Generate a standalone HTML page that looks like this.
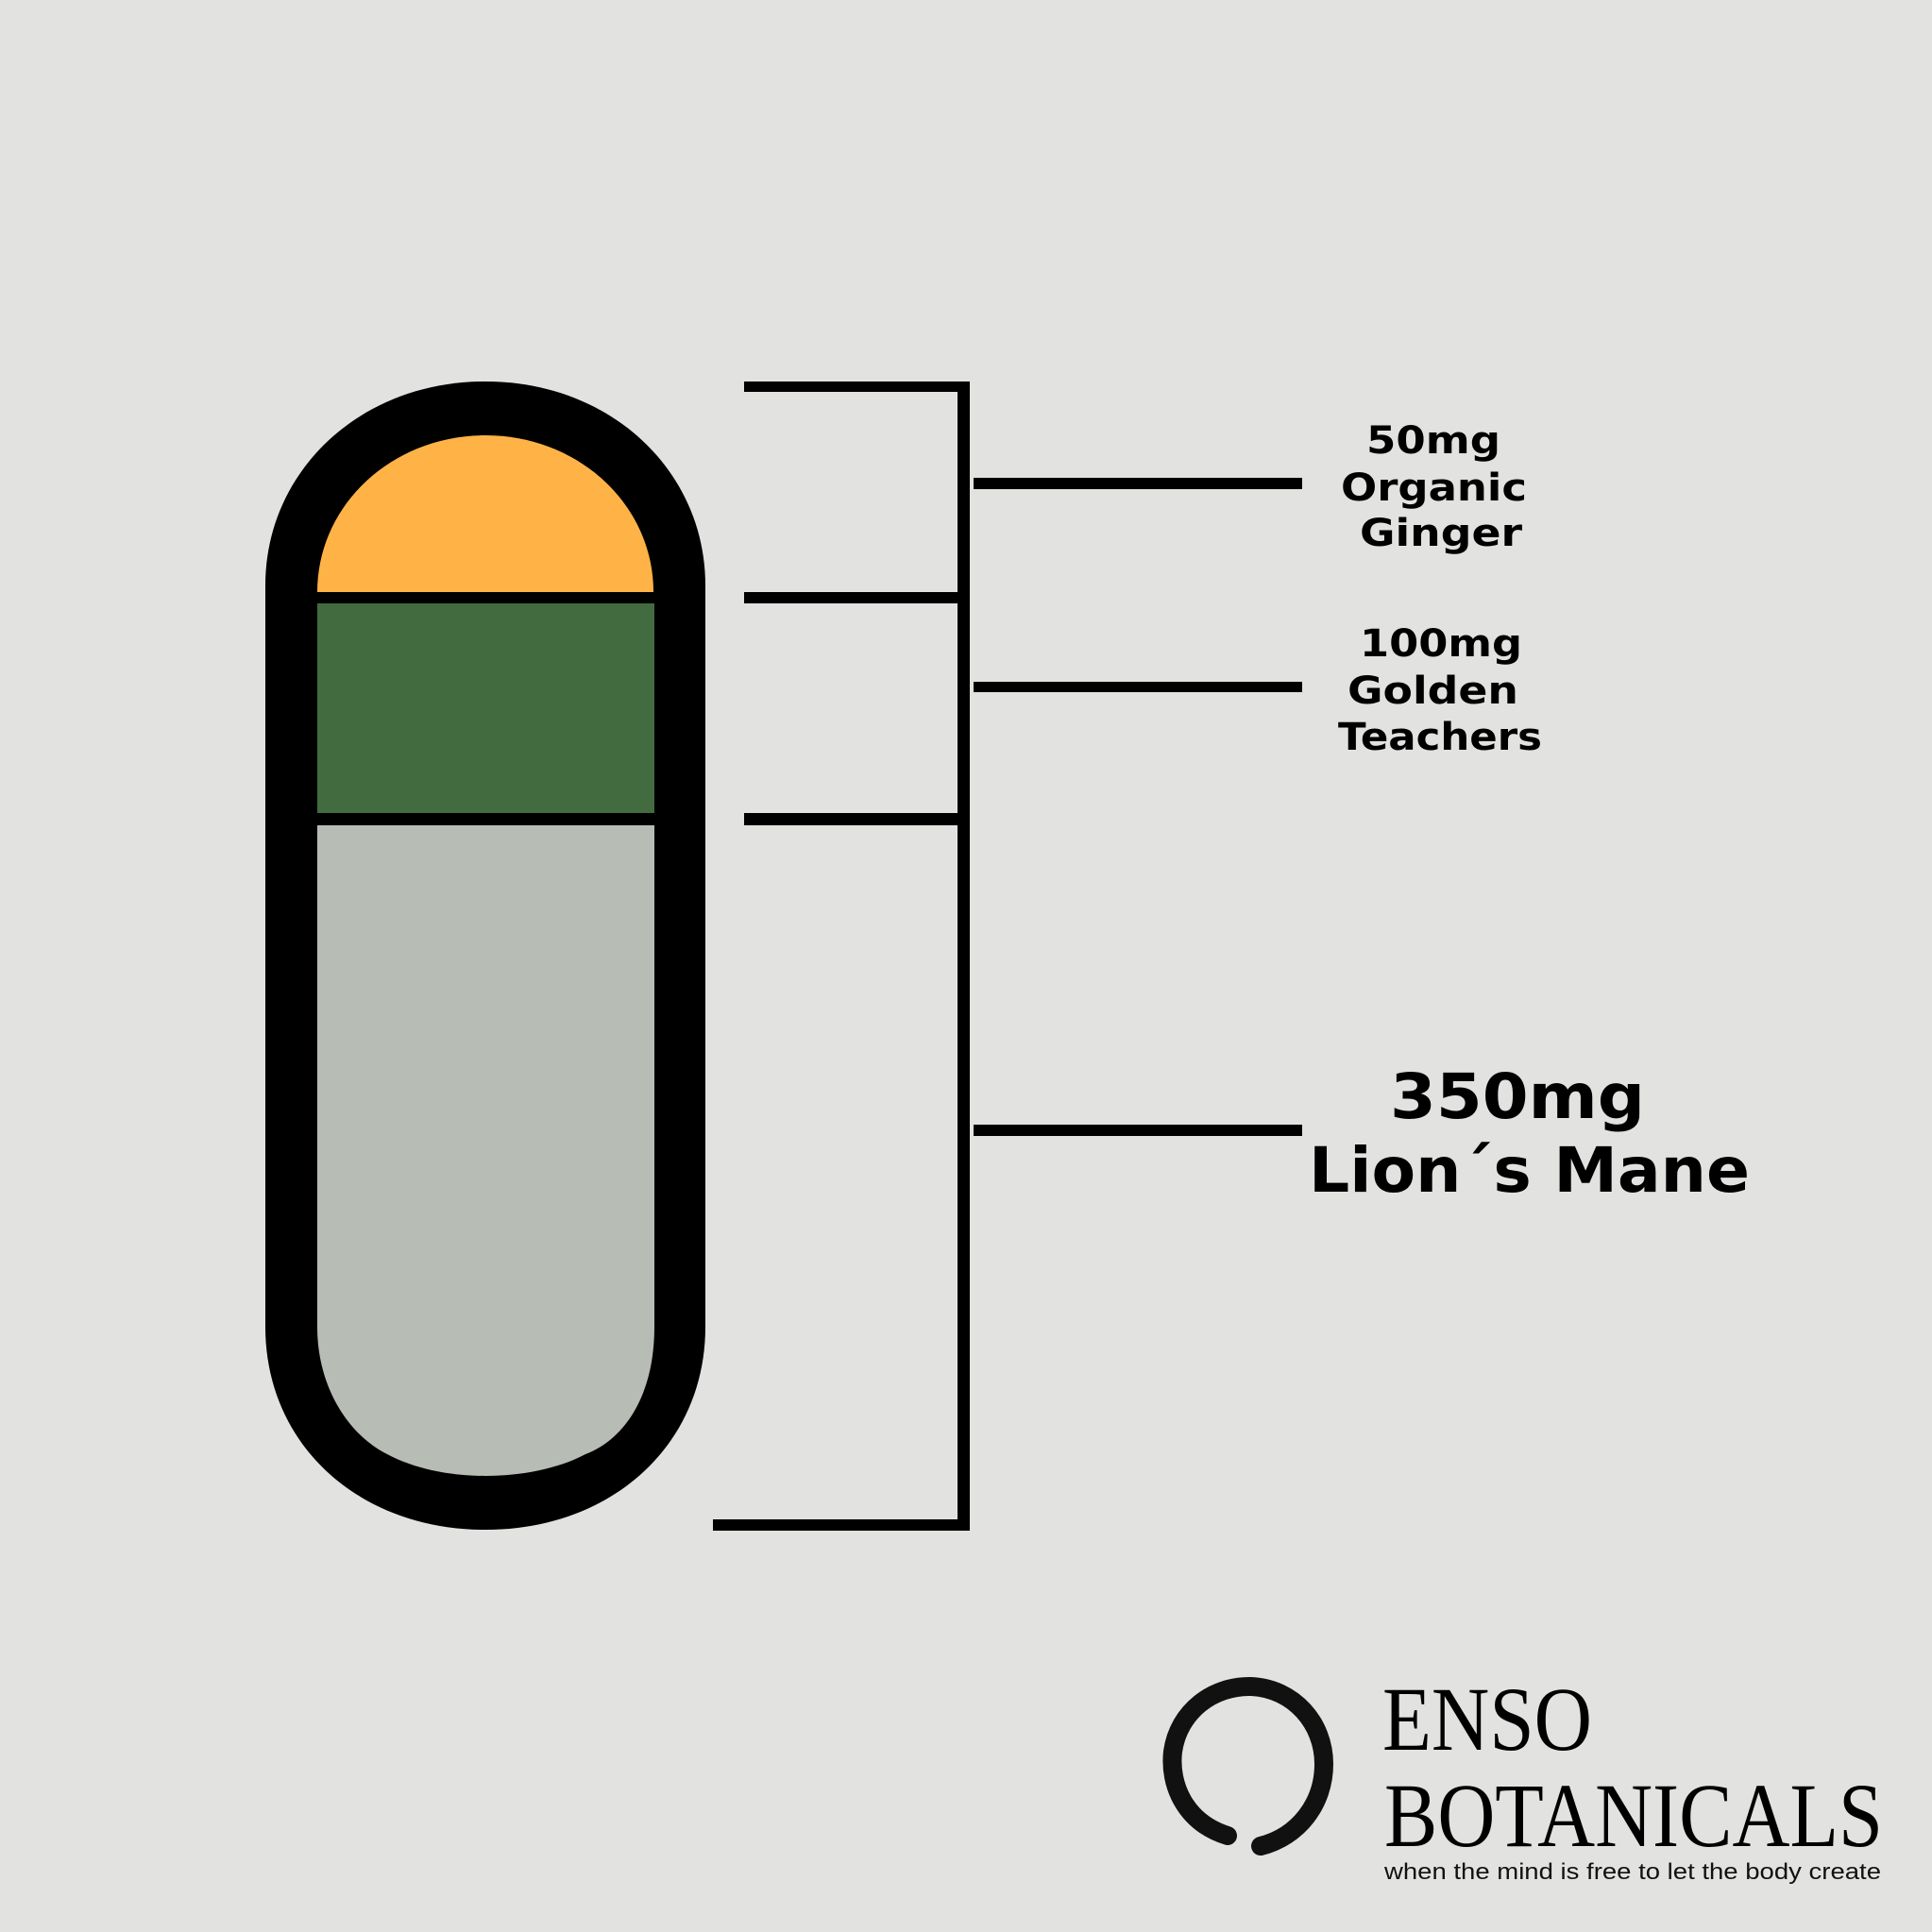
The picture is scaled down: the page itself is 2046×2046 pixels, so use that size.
<!DOCTYPE html>
<html><head><meta charset="utf-8"><style>html,body{margin:0;padding:0;background:#e2e2e0}svg{display:block}</style></head>
<body>
<svg width="2046" height="2046" viewBox="0 0 2046 2046" xmlns="http://www.w3.org/2000/svg">
<rect width="2046" height="2046" fill="#e2e2e0"/>
<path d="M281 620 C281 500 380 404 514 404 C648 404 747 500 747 620 L747 1405 C747 1530 648 1620 514 1620 C380 1620 281 1530 281 1405 Z" fill="#000"/>
<path d="M336 627 C336 535 415 461 514 461 C613 461 692 535 692 627 Z" fill="#ffb347"/>
<rect x="336" y="639" width="357" height="222" fill="#426b3f"/>
<path d="M336 874 L693 874 L693 1405 C693 1480 660 1525 620 1540 C590 1556 550 1563 514 1563 C478 1563 440 1556 410 1540 C370 1520 336 1470 336 1405 Z" fill="#b7bcb5"/>
<g fill="#000">
<rect x="1014" y="404" width="13" height="1217"/>
<rect x="788" y="404" width="239" height="11"/>
<rect x="788" y="627" width="239" height="12"/>
<rect x="788" y="861" width="239" height="13"/>
<rect x="755" y="1609" width="272" height="12"/>
<rect x="1031" y="506" width="348" height="12"/>
<rect x="1031" y="722" width="348" height="11"/>
<rect x="1031" y="1191" width="348" height="12"/>
</g>
<g font-family="'DejaVu Sans','Liberation Sans',sans-serif" font-weight="bold" fill="#000" font-size="40">
<text x="1447" y="480" textLength="142" lengthAdjust="spacingAndGlyphs">50mg</text>
<text x="1420" y="530" textLength="197" lengthAdjust="spacingAndGlyphs">Organic</text>
<text x="1440" y="578" textLength="172" lengthAdjust="spacingAndGlyphs">Ginger</text>
<text x="1440" y="695" textLength="172" lengthAdjust="spacingAndGlyphs">100mg</text>
<text x="1427" y="745" textLength="181" lengthAdjust="spacingAndGlyphs">Golden</text>
<text x="1417" y="794" textLength="216" lengthAdjust="spacingAndGlyphs">Teachers</text>
<text x="1472" y="1184" font-size="66" textLength="270" lengthAdjust="spacingAndGlyphs">350mg</text>
<text x="1386" y="1262" font-size="66" textLength="467" lengthAdjust="spacingAndGlyphs">Lion´s Mane</text>
</g>
<path d="M1300 1944 C1255 1930 1238 1890 1242 1855 C1248 1812 1285 1785 1325 1786 C1370 1788 1402 1825 1402 1868 C1402 1910 1375 1945 1335 1955" fill="none" stroke="#111" stroke-width="20" stroke-linecap="round"/>
<g font-family="'Liberation Serif',serif" fill="#000">
<text x="1464" y="1853" font-size="96" textLength="222" lengthAdjust="spacingAndGlyphs">ENSO</text>
<text x="1466" y="1955" font-size="96" textLength="528" lengthAdjust="spacingAndGlyphs">BOTANICALS</text>
</g>
<text x="1466" y="1990" font-family="'Liberation Sans',sans-serif" font-size="24" fill="#111" textLength="526" lengthAdjust="spacingAndGlyphs">when the mind is free to let the body create</text>
</svg>
</body></html>
